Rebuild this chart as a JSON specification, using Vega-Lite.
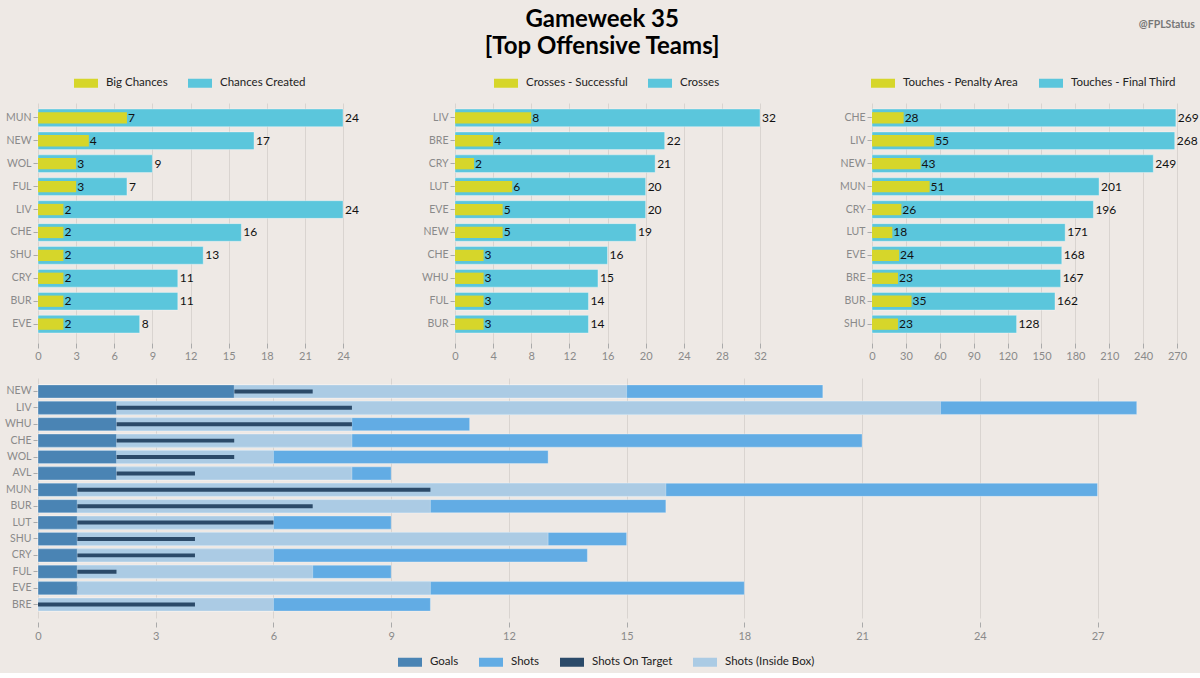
{
  "$schema": "https://vega.github.io/schema/vega-lite/v6.json",
  "background": "#EEE9E5",
  "padding": {"left": 4, "right": 5, "top": 8, "bottom": 5},
  "title": {"text": "@FPLStatus", "anchor": "end", "orient": "top", "fontSize": 10.5, "fontWeight": "bold", "color": "#777777", "offset": -22, "dx": -4},
  "config": {
    "font": "Lato",
    "view": {"stroke": null},
    "axis": {"domain": false, "labelColor": "#8a8a8a", "labelFontSize": 11, "tickColor": "#aaaaaa", "tickSize": 5, "gridColor": "#d9d4d0", "labelOverlap": false},
    "axisY": {"grid": false, "labelPadding": 2, "labelFontSize": 10.5},
    "axisX": {"grid": true, "offset": 2, "labelPadding": 2, "labelFlush": false},
    "legend": {"orient": "top", "direction": "horizontal", "labelFontSize": 11.5, "labelColor": "#222222", "symbolType": "M-1.2,-0.45H1.2V0.45H-1.2Z", "symbolSize": 400, "symbolStrokeWidth": 0, "labelOffset": 10, "columnPadding": 20, "offset": 12,
      "layout": {"top": {"anchor": "middle"}, "bottom": {"anchor": "middle"}}}
  },
  "datasets": {
    "chances": [
      {"team": "MUN", "big": 7, "created": 24},
      {"team": "NEW", "big": 4, "created": 17},
      {"team": "WOL", "big": 3, "created": 9},
      {"team": "FUL", "big": 3, "created": 7},
      {"team": "LIV", "big": 2, "created": 24},
      {"team": "CHE", "big": 2, "created": 16},
      {"team": "SHU", "big": 2, "created": 13},
      {"team": "CRY", "big": 2, "created": 11},
      {"team": "BUR", "big": 2, "created": 11},
      {"team": "EVE", "big": 2, "created": 8}
    ],
    "crosses": [
      {"team": "LIV", "succ": 8, "total": 32},
      {"team": "BRE", "succ": 4, "total": 22},
      {"team": "CRY", "succ": 2, "total": 21},
      {"team": "LUT", "succ": 6, "total": 20},
      {"team": "EVE", "succ": 5, "total": 20},
      {"team": "NEW", "succ": 5, "total": 19},
      {"team": "CHE", "succ": 3, "total": 16},
      {"team": "WHU", "succ": 3, "total": 15},
      {"team": "FUL", "succ": 3, "total": 14},
      {"team": "BUR", "succ": 3, "total": 14}
    ],
    "touches": [
      {"team": "CHE", "pen": 28, "final": 269},
      {"team": "LIV", "pen": 55, "final": 268},
      {"team": "NEW", "pen": 43, "final": 249},
      {"team": "MUN", "pen": 51, "final": 201},
      {"team": "CRY", "pen": 26, "final": 196},
      {"team": "LUT", "pen": 18, "final": 171},
      {"team": "EVE", "pen": 24, "final": 168},
      {"team": "BRE", "pen": 23, "final": 167},
      {"team": "BUR", "pen": 35, "final": 162},
      {"team": "SHU", "pen": 23, "final": 128}
    ],
    "shots": [
      {"team": "NEW", "goals": 5, "sot": 7, "inbox": 15, "shots": 20},
      {"team": "LIV", "goals": 2, "sot": 8, "inbox": 23, "shots": 28},
      {"team": "WHU", "goals": 2, "sot": 8, "inbox": 8, "shots": 11},
      {"team": "CHE", "goals": 2, "sot": 5, "inbox": 8, "shots": 21},
      {"team": "WOL", "goals": 2, "sot": 5, "inbox": 6, "shots": 13},
      {"team": "AVL", "goals": 2, "sot": 4, "inbox": 8, "shots": 9},
      {"team": "MUN", "goals": 1, "sot": 10, "inbox": 16, "shots": 27},
      {"team": "BUR", "goals": 1, "sot": 7, "inbox": 10, "shots": 16},
      {"team": "LUT", "goals": 1, "sot": 6, "inbox": 6, "shots": 9},
      {"team": "SHU", "goals": 1, "sot": 4, "inbox": 13, "shots": 15},
      {"team": "CRY", "goals": 1, "sot": 4, "inbox": 6, "shots": 14},
      {"team": "FUL", "goals": 1, "sot": 2, "inbox": 7, "shots": 9},
      {"team": "EVE", "goals": 1, "sot": 1, "inbox": 10, "shots": 18},
      {"team": "BRE", "goals": 0, "sot": 4, "inbox": 6, "shots": 10}
    ]
  },
  "spacing": 17,
  "resolve": {"scale": {"color": "independent"}, "legend": {"color": "independent"}},
  "vconcat": [
    {
      "title": {"text": ["Gameweek 35", "[Top Offensive Teams]"], "anchor": "middle", "fontSize": 24, "fontWeight": "bold", "color": "#000000", "lineHeight": 27, "offset": 14},
      "bounds": "flush",
      "spacing": 112,
      "resolve": {"scale": {"color": "independent"}, "legend": {"color": "independent"}},
      "hconcat": [
        {
          "width": 305, "height": 240,
          "data": {"name": "chances"},
          "encoding": {"y": {"field": "team", "type": "nominal", "sort": null, "title": null, "scale": {"paddingInner": 0.23, "paddingOuter": 0.35}}},
          "layer": [
            {"mark": {"type": "bar", "stroke": "#ffffff", "strokeOpacity": 0.35, "strokeWidth": 1},
             "encoding": {"x": {"field": "created", "type": "quantitative", "title": null, "scale": {"domain": [0, 24], "nice": false}, "axis": {"values": [0, 3, 6, 9, 12, 15, 18, 21, 24]}},
                          "color": {"datum": "Chances Created", "scale": {"domain": ["Big Chances", "Chances Created"], "range": ["#D6D62A", "#5BC6DC"]}, "legend": {"title": null}}}},
            {"mark": {"type": "bar", "height": {"band": 0.64}},
             "encoding": {"x": {"field": "big", "type": "quantitative", "title": null, "axis": {"values": [0, 3, 6, 9, 12, 15, 18, 21, 24]}}, "color": {"datum": "Big Chances"}}},
            {"mark": {"type": "text", "align": "left", "baseline": "middle", "dx": 2, "fontSize": 12, "color": "#111111"},
             "encoding": {"x": {"field": "created", "type": "quantitative", "title": null, "axis": {"values": [0, 3, 6, 9, 12, 15, 18, 21, 24]}}, "text": {"field": "created", "type": "quantitative"}}},
            {"mark": {"type": "text", "align": "left", "baseline": "middle", "dx": 1, "fontSize": 12, "color": "#111111"},
             "encoding": {"x": {"field": "big", "type": "quantitative", "title": null, "axis": {"values": [0, 3, 6, 9, 12, 15, 18, 21, 24]}}, "text": {"field": "big", "type": "quantitative"}}}
          ]
        },
        {
          "width": 305, "height": 240,
          "data": {"name": "crosses"},
          "encoding": {"y": {"field": "team", "type": "nominal", "sort": null, "title": null, "scale": {"paddingInner": 0.23, "paddingOuter": 0.35}}},
          "layer": [
            {"mark": {"type": "bar", "stroke": "#ffffff", "strokeOpacity": 0.35, "strokeWidth": 1},
             "encoding": {"x": {"field": "total", "type": "quantitative", "title": null, "scale": {"domain": [0, 32], "nice": false}, "axis": {"values": [0, 4, 8, 12, 16, 20, 24, 28, 32]}},
                          "color": {"datum": "Crosses", "scale": {"domain": ["Crosses - Successful", "Crosses"], "range": ["#D6D62A", "#5BC6DC"]}, "legend": {"title": null}}}},
            {"mark": {"type": "bar", "height": {"band": 0.64}},
             "encoding": {"x": {"field": "succ", "type": "quantitative", "title": null, "axis": {"values": [0, 4, 8, 12, 16, 20, 24, 28, 32]}}, "color": {"datum": "Crosses - Successful"}}},
            {"mark": {"type": "text", "align": "left", "baseline": "middle", "dx": 2, "fontSize": 12, "color": "#111111"},
             "encoding": {"x": {"field": "total", "type": "quantitative", "title": null, "axis": {"values": [0, 4, 8, 12, 16, 20, 24, 28, 32]}}, "text": {"field": "total", "type": "quantitative"}}},
            {"mark": {"type": "text", "align": "left", "baseline": "middle", "dx": 1, "fontSize": 12, "color": "#111111"},
             "encoding": {"x": {"field": "succ", "type": "quantitative", "title": null, "axis": {"values": [0, 4, 8, 12, 16, 20, 24, 28, 32]}}, "text": {"field": "succ", "type": "quantitative"}}}
          ]
        },
        {
          "width": 305, "height": 240,
          "data": {"name": "touches"},
          "encoding": {"y": {"field": "team", "type": "nominal", "sort": null, "title": null, "scale": {"paddingInner": 0.23, "paddingOuter": 0.35}}},
          "layer": [
            {"mark": {"type": "bar", "stroke": "#ffffff", "strokeOpacity": 0.35, "strokeWidth": 1},
             "encoding": {"x": {"field": "final", "type": "quantitative", "title": null, "scale": {"domain": [0, 270], "nice": false}, "axis": {"values": [0, 30, 60, 90, 120, 150, 180, 210, 240, 270]}},
                          "color": {"datum": "Touches - Final Third", "scale": {"domain": ["Touches - Penalty Area", "Touches - Final Third"], "range": ["#D6D62A", "#5BC6DC"]}, "legend": {"title": null}}}},
            {"mark": {"type": "bar", "height": {"band": 0.64}},
             "encoding": {"x": {"field": "pen", "type": "quantitative", "title": null, "axis": {"values": [0, 30, 60, 90, 120, 150, 180, 210, 240, 270]}}, "color": {"datum": "Touches - Penalty Area"}}},
            {"mark": {"type": "text", "align": "left", "baseline": "middle", "dx": 2, "fontSize": 12, "color": "#111111"},
             "encoding": {"x": {"field": "final", "type": "quantitative", "title": null, "axis": {"values": [0, 30, 60, 90, 120, 150, 180, 210, 240, 270]}}, "text": {"field": "final", "type": "quantitative"}}},
            {"mark": {"type": "text", "align": "left", "baseline": "middle", "dx": 1, "fontSize": 12, "color": "#111111"},
             "encoding": {"x": {"field": "pen", "type": "quantitative", "title": null, "axis": {"values": [0, 30, 60, 90, 120, 150, 180, 210, 240, 270]}}, "text": {"field": "pen", "type": "quantitative"}}}
          ]
        }
      ]
    },
    {
      "width": 1138, "height": 240,
      "data": {"name": "shots"},
      "encoding": {"y": {"field": "team", "type": "nominal", "sort": null, "title": null, "scale": {"paddingInner": 0.2, "paddingOuter": 0.42}}},
      "layer": [
        {"mark": {"type": "bar", "stroke": "#ffffff", "strokeOpacity": 0.3, "strokeWidth": 1},
         "encoding": {"x": {"field": "shots", "type": "quantitative", "title": null, "scale": {"domain": [0, 29], "nice": false}, "axis": {"values": [0, 3, 6, 9, 12, 15, 18, 21, 24, 27], "offset": 4, "labelPadding": 3}},
                      "color": {"datum": "Shots", "scale": {"domain": ["Goals", "Shots", "Shots On Target", "Shots (Inside Box)"], "range": ["#4A84B4", "#62ACE4", "#2B4A69", "#ABCBE4"]},
                                "legend": {"title": null, "orient": "bottom", "offset": 11}}}},
        {"mark": {"type": "bar", "stroke": "#ffffff", "strokeOpacity": 0.3, "strokeWidth": 1},
         "encoding": {"x": {"field": "inbox", "type": "quantitative", "title": null, "axis": {"values": [0, 3, 6, 9, 12, 15, 18, 21, 24, 27], "offset": 4, "labelPadding": 3}}, "color": {"datum": "Shots (Inside Box)"}}},
        {"mark": {"type": "bar", "height": {"band": 0.3}},
         "encoding": {"x": {"field": "sot", "type": "quantitative", "title": null, "axis": {"values": [0, 3, 6, 9, 12, 15, 18, 21, 24, 27], "offset": 4, "labelPadding": 3}}, "color": {"datum": "Shots On Target"}}},
        {"transform": [{"filter": "datum.goals > 0"}],
         "mark": {"type": "bar", "stroke": "#ffffff", "strokeOpacity": 0.3, "strokeWidth": 1},
         "encoding": {"x": {"field": "goals", "type": "quantitative", "title": null, "axis": {"values": [0, 3, 6, 9, 12, 15, 18, 21, 24, 27], "offset": 4, "labelPadding": 3}}, "color": {"datum": "Goals"}}}
      ]
    }
  ]
}
